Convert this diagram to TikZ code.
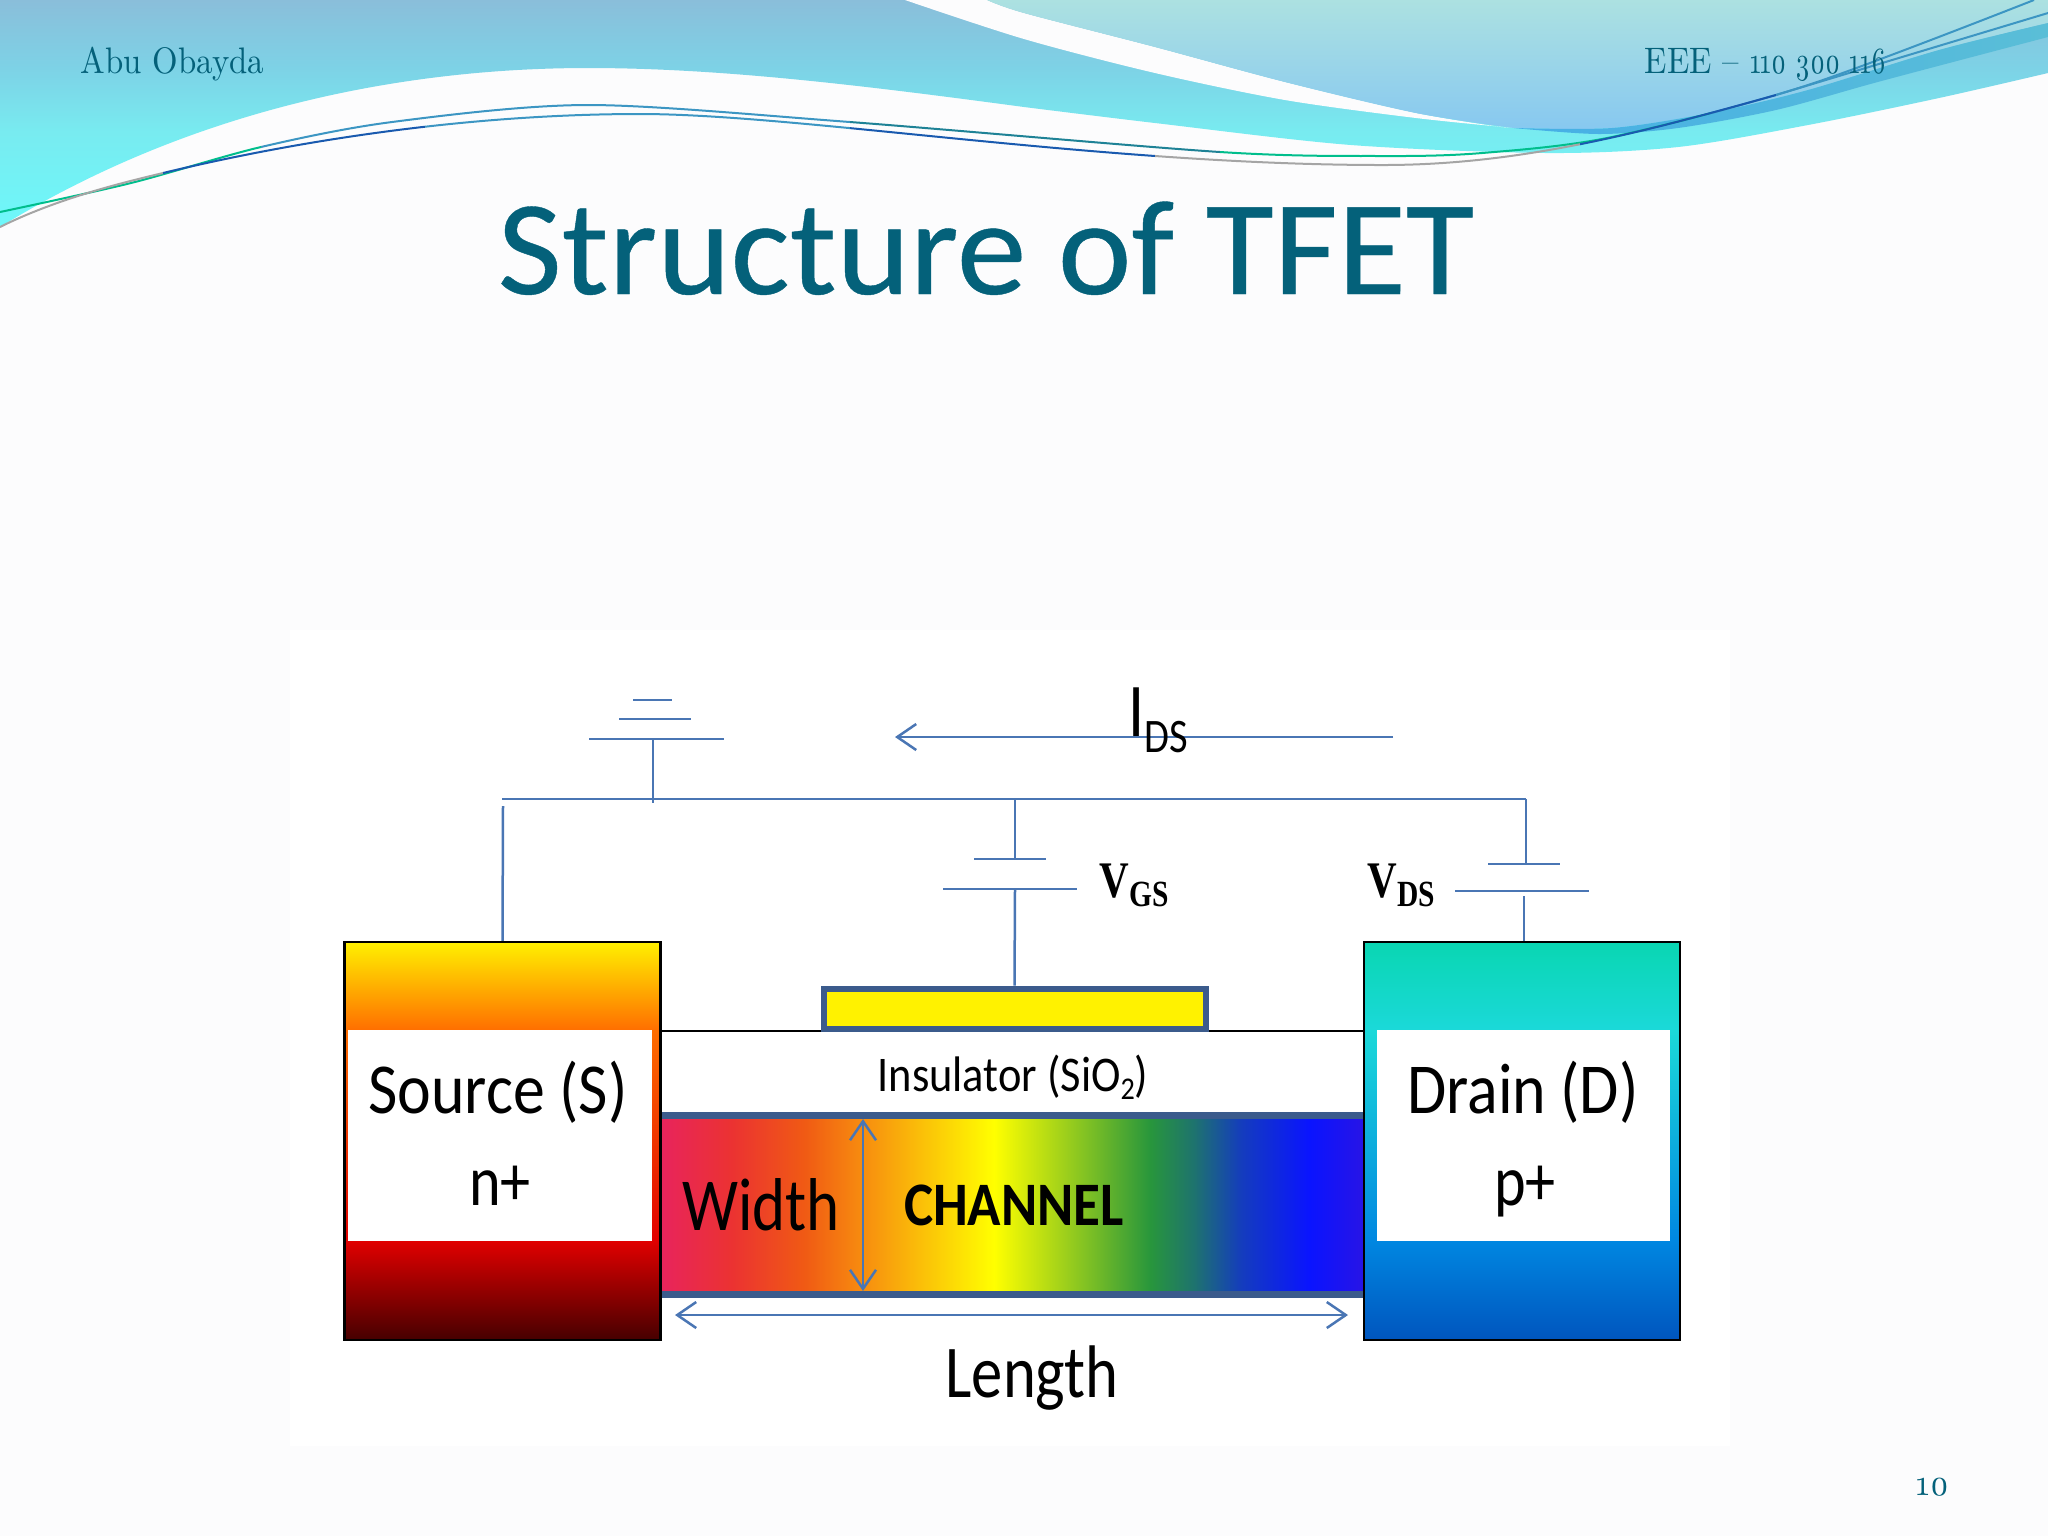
\documentclass[tikz,border=0pt]{standalone}
\usepackage{fontspec}
\usetikzlibrary{arrows.meta,calc}
\setmainfont{Carlito}
\newfontfamily\headfont[Numbers=OldStyle,FakeStretch=0.89]{Latin Modern Roman}
\newfontfamily\headnums[Numbers=OldStyle,FakeStretch=0.72]{Latin Modern Roman}
\newfontfamily\titlefont[FakeStretch=1.035,FakeBold=0.3]{Carlito}
\newfontfamily\narrowfont[FakeStretch=0.84]{Carlito}
\newfontfamily\midfont[FakeStretch=0.89]{Carlito}
\newfontfamily\voltfont[FakeStretch=0.8]{Liberation Serif}

\definecolor{pagebg}{RGB}{252,252,253}
\definecolor{titleblue}{RGB}{4,97,122}
\definecolor{wireblue}{RGB}{74,118,180}
\definecolor{barblue}{RGB}{59,91,140}
\definecolor{bandA}{RGB}{138,190,218}
\definecolor{bandB}{RGB}{125,210,230}
\definecolor{bandC}{RGB}{120,235,240}
\definecolor{bandD}{RGB}{110,248,250}
\definecolor{srcA}{RGB}{255,240,0}
\definecolor{srcB}{RGB}{255,110,0}
\definecolor{srcC}{RGB}{225,0,0}
\definecolor{srcD}{RGB}{70,0,0}
\definecolor{drnA}{RGB}{9,214,178}
\definecolor{drnB}{RGB}{27,217,217}
\definecolor{drnC}{RGB}{0,135,225}
\definecolor{drnD}{RGB}{0,85,190}
\definecolor{chA}{RGB}{232,36,92}
\definecolor{chB}{RGB}{235,50,50}
\definecolor{chC}{RGB}{240,90,20}
\definecolor{chD}{RGB}{247,140,15}
\definecolor{chE}{RGB}{255,255,0}
\definecolor{chF}{RGB}{40,150,60}
\definecolor{chG}{RGB}{30,115,110}
\definecolor{chH}{RGB}{20,60,190}
\definecolor{chI}{RGB}{10,20,255}
\definecolor{chJ}{RGB}{40,20,230}
\definecolor{lineGreen}{RGB}{0,190,140}
\definecolor{lineTeal}{RGB}{30,130,150}
\definecolor{lineBlue}{RGB}{60,150,195}
\definecolor{lineDark}{RGB}{25,90,175}
\definecolor{lineGray}{RGB}{165,165,165}

\pgfdeclareverticalshading{bandshade}{100bp}{color(0bp)=(bandD); color(25bp)=(bandD); color(46bp)=(bandC); color(60bp)=(bandB); color(75bp)=(bandA); color(100bp)=(bandA)}
\pgfdeclareverticalshading{srcshade}{100bp}{color(0bp)=(srcD); color(25bp)=(srcD); color(37.5bp)=(srcC); color(63.9bp)=(srcB); color(75bp)=(srcA); color(100bp)=(srcA)}
\pgfdeclareverticalshading{drnshade}{100bp}{color(0bp)=(drnD); color(25bp)=(drnD); color(37.5bp)=(drnC); color(63.9bp)=(drnB); color(75bp)=(drnA); color(100bp)=(drnA)}
\pgfdeclarehorizontalshading{chshade}{100bp}{color(0bp)=(chA); color(25bp)=(chA); color(30bp)=(chB); color(35.2bp)=(chC); color(39.3bp)=(chD); color(48.7bp)=(chE); color(59.8bp)=(chF); color(62.9bp)=(chG); color(66.3bp)=(chH); color(71.1bp)=(chI); color(75bp)=(chJ); color(100bp)=(chJ)}

\newcommand{\lineUpper}{plot[smooth] coordinates {(0,212) (131,183) (261,147) (392,122) (588,105) (850,122) (1220,152) (1383,156) (1482,153) (1612,137) (1808,85) (2034,0)}}
\newcommand{\lineLower}{(0,227) .. controls (60,197) and (130,181) .. (163,173) .. controls (300,140) and (470,114) .. (640,114) .. controls (800,114) and (1100,165) .. (1383,165) .. controls (1520,165) and (1640,133) .. (1776,95) -- (2048,13)}

\begin{document}
\begin{tikzpicture}[x=0.1mm,y=-0.1mm]

	\tikzset{
		wire/.style = {draw=wireblue, line width=0.25mm},
		plate/.style = {shape=rectangle, fill=wireblue, inner sep=0pt, minimum height=0.25mm},
		dimarrow/.style = {wire, {Straight Barb[length=1.9mm,width=2.6mm]}-{Straight Barb[length=1.9mm,width=2.6mm]}},
		curvearrow/.style = {wire, -{Straight Barb[length=1.9mm,width=2.6mm]}},
		whitebox/.style = {shape=rectangle, fill=white, inner sep=0pt},
		contact/.style = {shape=rectangle, draw=black, line width=0.25mm, inner sep=0pt, shade, minimum width=31.6mm, minimum height=39.8mm},
		swoosh/.style = {line width=0.2mm},
		label/.style = {anchor=base, inner sep=0pt, text=black},
		headtext/.style = {anchor=base west, inner sep=0pt, text=titleblue, font=\headfont\fontsize{10.5pt}{12pt}\selectfont}
	}

	\useasboundingbox (0,0) rectangle (2048,1536);
	\fill[pagebg] (0,0) rectangle (2048,1536);

	%header band
	\path[shade, shading=bandshade] (0,0) -- (2048,0) -- (2048,73)
		-- plot[smooth] coordinates {(2048,73) (1939,98) (1808,125) (1678,147) (1547,153) (1351,145) (1155,123) (1024,107)}
		.. controls (860,85) and (720,68) .. (588,68)
		.. controls (400,68) and (190,110) .. (0,227) -- cycle;

	%white swoosh
	\fill[pagebg] plot[smooth] coordinates {(905,0) (1024,39) (1155,73) (1285,100) (1416,118) (1514,128)}
		-- plot[smooth] coordinates {(1501,127) (1416,113) (1285,82) (1155,47) (1024,13) (987,0)} -- cycle;

	%top right
	\path[top color={rgb,255:red,172;green,225;blue,225}, bottom color={rgb,255:red,135;green,200;blue,240}]
		plot[smooth] coordinates {(987,0) (1024,13) (1155,47) (1285,82) (1416,113) (1514,128)}
		-- plot[smooth] coordinates {(1514,128) (1612,128) (1710,113) (1808,90) (1939,50) (2048,23)}
		-- (2048,0) -- cycle;
	\path[left color={rgb,255:red,70;green,175;blue,230}, right color={rgb,255:red,90;green,190;blue,215}]
		plot[smooth] coordinates {(1514,128) (1612,128) (1710,113) (1808,90) (1939,50) (2048,23)}
		-- plot[smooth] coordinates {(2048,37) (1972,57) (1874,83) (1776,110) (1678,128) (1599,134) (1514,128)} -- cycle;

	%thin lines
	\foreach \xa/\xb/\linecol in {0/261/lineGreen, 261/850/lineBlue, 850/1220/lineTeal, 1220/1710/lineGreen, 1710/2048/lineBlue}{
		\begin{scope}
			\clip (\xa,0) rectangle (\xb,300);
			\draw[swoosh, \linecol] \lineUpper;
		\end{scope}
	}
	\foreach \xa/\xb/\linecol in {0/163/lineGray, 163/425/lineDark, 425/850/lineBlue, 850/1155/lineDark, 1155/1580/lineGray, 1580/1776/lineDark, 1776/2048/lineBlue}{
		\begin{scope}
			\clip (\xa,0) rectangle (\xb,300);
			\draw[swoosh, \linecol] \lineLower;
		\end{scope}
	}

	\node (author) [headtext] at (80,73) {Abu Obayda};
	\node (roll) [headtext] at (1644,73) {EEE – {\headnums 110 300 116}};
	\node (pageno) [headtext] at (1916,1495) {10};
	\node (title) [anchor=base, inner sep=0pt, text=titleblue, font=\titlefont\fontsize{38.4pt}{44pt}\selectfont] at (986,294) {Structure of TFET};

	%figure panel
	\fill[white] (290,630) rectangle (1730,1446);

	%channel
	\node (channel) [shape=rectangle, inner sep=0pt, shade, shading=chshade, minimum width=70.3mm, minimum height=17.2mm] at (1012.5,1205) {};
	\fill[barblue] (661,1112) rectangle (1364,1119);
	\fill[barblue] (661,1291) rectangle (1364,1298);
	\draw[black, line width=0.25mm] (661,1031) -- (1364,1031);

	%source and drain
	\node (source) [contact, shading=srcshade] at (502.5,1141) {};
	\node (drain) [contact, shading=drnshade] at (1522,1141) {};
	\node (srcwhite) [whitebox, minimum width=30.4mm, minimum height=21.1mm] at (500,1135.5) {};
	\node (drnwhite) [whitebox, minimum width=29.3mm, minimum height=21.1mm] at (1523.5,1135.5) {};

	%gate
	\node (gate) [shape=rectangle, draw=barblue, fill=yellow, line width=0.6mm, inner sep=0pt, minimum width=38.2mm, minimum height=4mm] at (1014.5,1008.5) {};

	%bus
	\coordinate (busL) at (502,799);
	\coordinate (busR) at (1526,799);
	\coordinate (srcTap) at (503,806);
	\coordinate (gndTap) at (653,803);
	\coordinate (gsTap) at (1015,799);
	\coordinate (dsGap) at (1524,896);
	\draw[wire] (busL) -- (busR);
	\draw[wire] (srcTap) -- (source.north);

	%ground
	\node (gndA) [plate, minimum width=13.5mm] at (656.5,739) {};
	\node (gndB) [plate, minimum width=7.2mm] at (655,719) {};
	\node (gndC) [plate, minimum width=3.9mm] at (652.5,700) {};
	\draw[wire] (gndTap |- gndA) -- (gndTap);

	%VGS
	\node (gsTop) [plate, minimum width=7.2mm] at (1010,859) {};
	\node (gsBot) [plate, minimum width=13.4mm] at (1010,889) {};
	\draw[wire] (gsTap) -- (gsTap |- gsTop);
	\draw[wire] (gsTap |- gsBot) -- (gate.north);

	%VDS
	\node (dsTop) [plate, minimum width=7.2mm] at (1524,864) {};
	\node (dsBot) [plate, minimum width=13.4mm] at (1522,891) {};
	\draw[wire] (busR) -- (busR |- dsTop);
	\draw[wire] (dsGap) -- (dsGap |- drain.north);

	%current
	\coordinate (idsR) at (1393,737);
	\coordinate (idsL) at (895,737);
	\draw[curvearrow] (idsR) -- (idsL);

	%width and length
	\coordinate (widthT) at (863,1119);
	\coordinate (widthB) at (863,1291);
	\coordinate (lengthL) at (675,1315);
	\coordinate (lengthR) at (1348,1315);
	\draw[dimarrow] (widthT) -- (widthB);
	\draw[dimarrow] (lengthL) -- (lengthR);

	%labels
	\node (idsLabel) [anchor=base west, inner sep=0pt, font=\narrowfont\fontsize{21.6pt}{24pt}\selectfont] at (1128,736) {I\raisebox{-4.8pt}{\fontsize{13.7pt}{15pt}\selectfont DS}};
	\node (vgsLabel) [anchor=base west, inner sep=0pt, font=\voltfont\bfseries\fontsize{14.6pt}{16pt}\selectfont] at (1099,897) {V\raisebox{-2.8pt}{\fontsize{10.5pt}{12pt}\selectfont GS}};
	\node (vdsLabel) [anchor=base west, inner sep=0pt, font=\voltfont\bfseries\fontsize{14.6pt}{16pt}\selectfont] at (1367,897) {V\raisebox{-2.8pt}{\fontsize{10.5pt}{12pt}\selectfont DS}};
	\node (srcName) [label, font=\midfont\fontsize{20.4pt}{24pt}\selectfont] at (498,1113) {Source (S)};
	\node (srcType) [label, font=\narrowfont\fontsize{20.4pt}{24pt}\selectfont] at (500,1205) {n+};
	\node (drnName) [label, font=\midfont\fontsize{20.4pt}{24pt}\selectfont] at (1523,1113) {Drain (D)};
	\node (drnType) [label, font=\narrowfont\fontsize{20.4pt}{24pt}\selectfont] at (1525,1205) {p+};
	\node (oxide) [label, font=\midfont\fontsize{14.2pt}{16pt}\selectfont] at (1013,1091) {Insulator (SiO\raisebox{-2.5pt}{\fontsize{9pt}{10pt}\selectfont 2})};
	\node (widthLabel) [label, font=\narrowfont\fontsize{21.3pt}{24pt}\selectfont] at (761,1230) {Width};
	\node (channelLabel) [label, font=\midfont\bfseries\fontsize{17.6pt}{20pt}\selectfont] at (1014,1225) {CHANNEL};
	\node (lengthLabel) [label, font=\narrowfont\fontsize{21.2pt}{24pt}\selectfont] at (1032,1397) {Length};
\end{tikzpicture}
\end{document}
